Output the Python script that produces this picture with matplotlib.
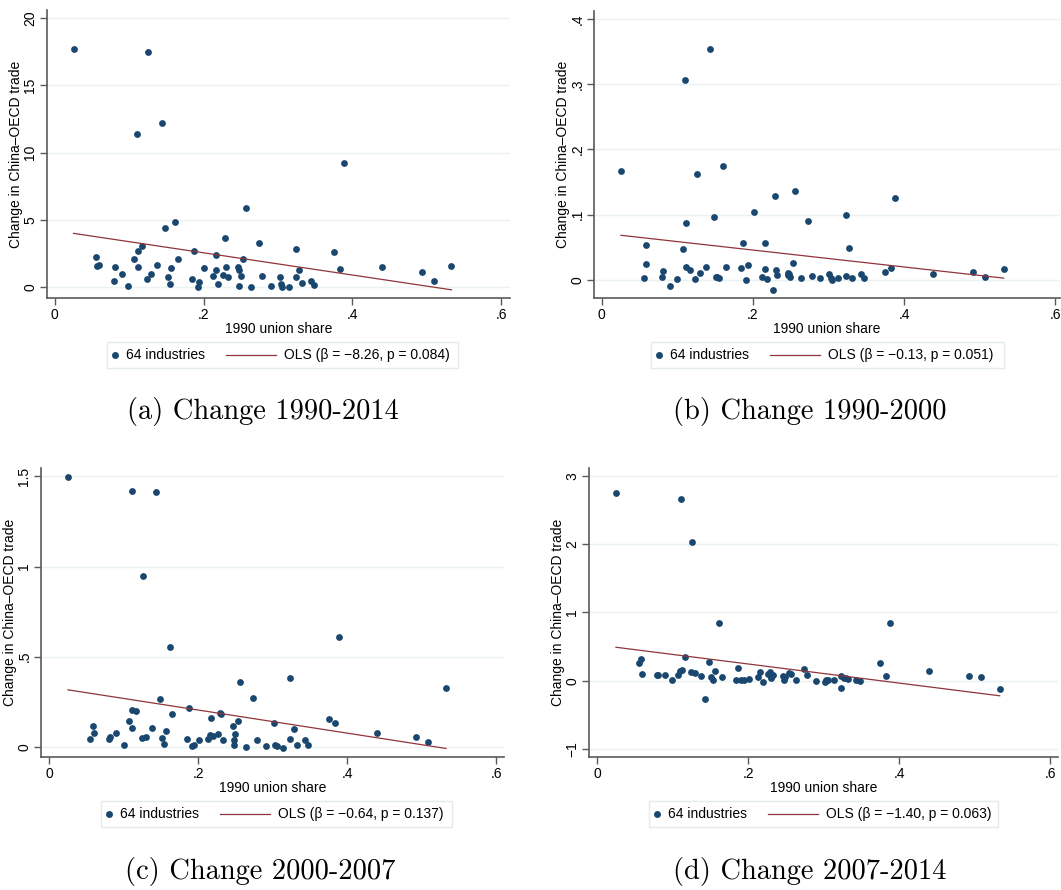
import numpy as np
import matplotlib
matplotlib.use("Agg")
import matplotlib.pyplot as plt
from matplotlib.lines import Line2D
from matplotlib.patches import Rectangle
from matplotlib.ticker import FuncFormatter

W, H = 1061, 890
NAVY = "#1a476f"
MAROON = "#90353b"
GRID = "#eaf2f3"
AXIS = "#5a5a5a"

# 1990 union share (x) vs change in China-OECD trade (y), one pair per period
x_9014 = [0.0255, 0.126, 0.111, 0.1436, 0.389, 0.257, 0.1615, 0.148, 0.229, 0.274,
          0.3235, 0.375, 0.1168, 0.112, 0.187, 0.217, 0.0555, 0.107, 0.165, 0.2536,
          0.0595, 0.057, 0.081, 0.112, 0.138, 0.156, 0.201, 0.2165, 0.230, 0.2465,
          0.248, 0.328, 0.383, 0.44, 0.493, 0.509, 0.533, 0.0797, 0.090, 0.099,
          0.124, 0.130, 0.152, 0.155, 0.185, 0.194, 0.192, 0.213, 0.219, 0.226,
          0.233, 0.2475, 0.250, 0.264, 0.279, 0.290, 0.302, 0.304, 0.306, 0.3145,
          0.3235, 0.3325, 0.344, 0.348]
y_9014 = [17.7, 17.47, 11.39, 12.23, 9.26, 5.92, 4.85, 4.41, 3.64, 3.27,
          2.87, 2.6, 3.04, 2.72, 2.72, 2.4, 2.25, 2.13, 2.13, 2.1,
          1.63, 1.58, 1.51, 1.51, 1.63, 1.41, 1.46, 1.31, 1.53, 1.51,
          1.26, 1.29, 1.39, 1.51, 1.11, 0.5, 1.58, 0.5, 0.97, 0.1,
          0.62, 1.01, 0.79, 0.27, 0.59, 0.4, 0.05, 0.84, 0.25, 0.94,
          0.74, 0.12, 0.82, 0.05, 0.87, 0.07, 0.79, 0.27, 0.05, 0.05,
          0.77, 0.32, 0.45, 0.15]

x_9000 = [0.0255, 0.1429, 0.1108, 0.1257, 0.161, 0.1116, 0.148, 0.2009, 0.2286, 0.256,
          0.3877, 0.273, 0.3226, 0.0589, 0.1073, 0.1868, 0.2163, 0.3266, 0.0593, 0.0554,
          0.0809, 0.0796, 0.0901, 0.0993, 0.1112, 0.1165, 0.124, 0.1297, 0.1376, 0.1512,
          0.155, 0.1648, 0.1837, 0.1908, 0.1934, 0.2123, 0.2158, 0.2189, 0.226, 0.23,
          0.2325, 0.2466, 0.248, 0.249, 0.2527, 0.2633, 0.2778, 0.2892, 0.3011, 0.303,
          0.305, 0.313, 0.3226, 0.3314, 0.3424, 0.3473, 0.374, 0.382, 0.4387, 0.4914,
          0.5073, 0.5314, 0.2470, 0.1530]
y_9000 = [0.1666, 0.354, 0.3067, 0.163, 0.175, 0.0866, 0.0963, 0.1044, 0.128, 0.1355,
          0.1253, 0.0897, 0.0988, 0.0535, 0.0479, 0.057, 0.056, 0.0484, 0.024, 0.0025,
          0.0132, 0.005, -0.0102, 0.001, 0.0199, 0.0143, 0.001, 0.0097, 0.0194, 0.0046,
          0.003, 0.0194, 0.0178, 0.0, 0.0224, 0.0046, 0.0168, 0.0015, -0.0153, 0.0153,
          0.0071, 0.0071, 0.009, 0.0046, 0.0255, 0.0025, 0.0056, 0.003, 0.009, 0.003,
          0.0, 0.003, 0.006, 0.002, 0.009, 0.0025, 0.0122, 0.0183, 0.009, 0.0117,
          0.0046, 0.0163, 0.011, 0.005]

x_0007 = [0.025, 0.111, 0.1432, 0.1257, 0.1615, 0.3888, 0.2564, 0.3235, 0.5329, 0.1481,
          0.2734, 0.187, 0.229, 0.23, 0.165, 0.1114, 0.1159, 0.1069, 0.1114, 0.0586,
          0.0595, 0.055, 0.0796, 0.082, 0.0899, 0.0998, 0.1239, 0.1298, 0.1378, 0.1512,
          0.1562, 0.1544, 0.1843, 0.1915, 0.1942, 0.2013, 0.213, 0.2157, 0.217, 0.22,
          0.2268, 0.233, 0.2465, 0.2478, 0.2478, 0.2496, 0.2537, 0.264, 0.2783, 0.2904,
          0.3016, 0.3029, 0.306, 0.3141, 0.3235, 0.328, 0.3324, 0.3436, 0.348, 0.3754,
          0.3834, 0.4398, 0.493, 0.5087]
y_0007 = [1.496, 1.417, 1.411, 0.948, 0.556, 0.609, 0.361, 0.380, 0.328, 0.265,
          0.269, 0.217, 0.191, 0.18, 0.185, 0.204, 0.202, 0.143, 0.106, 0.1185,
          0.076, 0.0426, 0.046, 0.054, 0.08, 0.009, 0.052, 0.056, 0.107, 0.052,
          0.087, 0.015, 0.043, 0.004, 0.013, 0.037, 0.044, 0.065, 0.161, 0.061,
          0.072, 0.041, 0.118, 0.041, 0.011, 0.070, 0.143, 0.0, 0.039, 0.004,
          0.131, 0.013, 0.006, -0.004, 0.046, 0.098, 0.013, 0.037, 0.009, 0.157,
          0.131, 0.08, 0.057, 0.030]

x_0714 = [0.0247, 0.1108, 0.1254, 0.1611, 0.3885, 0.1161, 0.0547, 0.0583, 0.0587, 0.0786,
          0.0808, 0.0896, 0.0993, 0.1064, 0.1099, 0.1117, 0.1236, 0.1298, 0.1377, 0.1479,
          0.143, 0.1506, 0.154, 0.1554, 0.1651, 0.1841, 0.1868, 0.1907, 0.1943, 0.2013,
          0.2132, 0.2163, 0.219, 0.2269, 0.2287, 0.23, 0.2331, 0.2464, 0.2477, 0.2494,
          0.2539, 0.2565, 0.2636, 0.2733, 0.2781, 0.2896, 0.3015, 0.3029, 0.3064, 0.3139,
          0.3236, 0.3236, 0.3267, 0.3325, 0.3435, 0.3479, 0.3748, 0.3823, 0.4397, 0.4927,
          0.5086, 0.5333, 0.2300, 0.3300]
y_0714 = [2.75, 2.667, 2.039, 0.843, 0.853, 0.348, 0.255, 0.323, 0.093, 0.078,
          0.083, 0.078, 0.005, 0.088, 0.142, 0.162, 0.132, 0.108, 0.069, 0.27,
          -0.265, 0.054, 0.015, 0.142, 0.054, 0.005, 0.181, 0.005, 0.015, 0.025,
          0.054, 0.127, -0.02, 0.103, 0.127, 0.034, 0.078, 0.069, 0.005, 0.054,
          0.113, 0.098, 0.005, 0.176, 0.083, 0.0, -0.015, 0.015, 0.005, 0.005,
          0.064, -0.108, 0.034, 0.029, 0.015, 0.0, 0.26, 0.064, 0.142, 0.069,
          0.054, -0.118, 0.060, 0.040]

# OLS fits: slope as reported, intercept
betas = [-8.26, -0.13, -0.64, -1.40]
pvals = [0.084, 0.051, 0.137, 0.063]
intercepts = [4.22, 0.0716, 0.3327, 0.5246]

captions = ["(a) Change 1990-2014", "(b) Change 1990-2000",
            "(c) Change 2000-2007", "(d) Change 2007-2014"]
yticks = [[0, 5, 10, 15, 20], [0, 0.1, 0.2, 0.3, 0.4],
          [0, 0.5, 1, 1.5], [-1, 0, 1, 2, 3]]
ylims = [(-0.79, 20.6), (-0.028, 0.4126), (-0.0556, 1.546), (-1.12, 3.12)]
xticks = [0, 0.2, 0.4, 0.6]

# panel boxes in pixels: left, right, top, bottom
boxes = [(47, 510, 10, 298), (594, 1060, 11, 298),
         (41, 504, 468, 757), (589, 1058, 468, 757)]
xlims = [(-0.0103, 0.6116), (-0.0101, 0.606), (-0.0112, 0.6107), (-0.011, 0.6106)]
# legend: box left, right, top, bottom ; caption centre x, y
legends = [(107, 458, 342, 368), (651, 1004, 342, 368),
           (101, 452, 801, 827), (649, 998, 801, 827)]
cap_pos = [(263, 412), (810, 412), (260, 871), (810, 871)]

data = [(x_9014, y_9014), (x_9000, y_9000), (x_0007, y_0007), (x_0714, y_0714)]


def stata_fmt(v, pos):
    s = f"{v:g}"
    if s.startswith("0."):
        s = s[1:]
    elif s.startswith("-0."):
        s = "-" + s[2:]
    return s.replace("-", "\u2212")


plt.rcParams["font.family"] = ["Liberation Sans", "DejaVu Sans"]
fig = plt.figure(figsize=(W / 100, H / 100), dpi=100)


def fx(px):
    return px / W


def fy(py):
    return 1 - py / H


FS = 10
for i in range(4):
    l, r, t, b = boxes[i]
    ax = fig.add_axes([fx(l), fy(b), (r - l) / W, (b - t) / H])
    x, y = data[i]
    ax.scatter(x, y, s=24, color=NAVY, linewidths=0, zorder=3)
    xs = np.array([min(x), max(x)])
    ax.plot(xs, intercepts[i] + betas[i] * xs, color=MAROON, lw=0.9, zorder=4)
    ax.set_xlim(*xlims[i])
    ax.set_ylim(*ylims[i])
    ax.set_xticks(xticks)
    ax.set_yticks(yticks[i])
    ax.xaxis.set_major_formatter(FuncFormatter(stata_fmt))
    ax.yaxis.set_major_formatter(FuncFormatter(stata_fmt))
    ax.tick_params(axis="both", labelsize=FS, length=5, width=1, color=AXIS,
                   direction="out", pad=2)
    ax.tick_params(axis="y", labelrotation=90)
    for lab in ax.get_yticklabels():
        lab.set_va("center")
    for y0 in yticks[i]:
        ax.axhline(y0, color=GRID, lw=1, zorder=1)
    for s in ("top", "right"):
        ax.spines[s].set_visible(False)
    for s in ("left", "bottom"):
        ax.spines[s].set_color(AXIS)
        ax.spines[s].set_linewidth(1.2)
    ax.set_xlabel("1990 union share", fontsize=FS, labelpad=0)
    ax.set_ylabel("Change in China\u2013OECD trade", fontsize=FS, labelpad=0)

    # legend box beneath the panel
    ll, lr, lt, lb = legends[i]
    fig.add_artist(Rectangle((fx(ll), fy(lb)), (lr - ll) / W, (lb - lt) / H,
                             transform=fig.transFigure, facecolor="white",
                             edgecolor="#e3ebed", lw=1))
    cy = fy((lt + lb) / 2)
    fig.add_artist(Line2D([fx(ll + 8)], [cy], marker="o", markersize=5,
                          color=NAVY, markeredgewidth=0, transform=fig.transFigure))
    fig.text(fx(ll + 19), cy, "64 industries", fontsize=FS, va="center", ha="left")
    fig.add_artist(Line2D([fx(ll + 119), fx(ll + 169)], [cy, cy], color=MAROON,
                          lw=0.9, transform=fig.transFigure))
    fig.text(fx(ll + 177), cy,
             f"OLS (\u03b2 = \u2212{abs(betas[i]):.2f}, p = {pvals[i]:.3f})",
             fontsize=FS, va="center", ha="left")

    fig.text(fx(cap_pos[i][0]), fy(cap_pos[i][1]), captions[i],
             family="cmr10", fontsize=20.5, ha="center", va="center")

fig.savefig("out.png", dpi=100, facecolor="white")
